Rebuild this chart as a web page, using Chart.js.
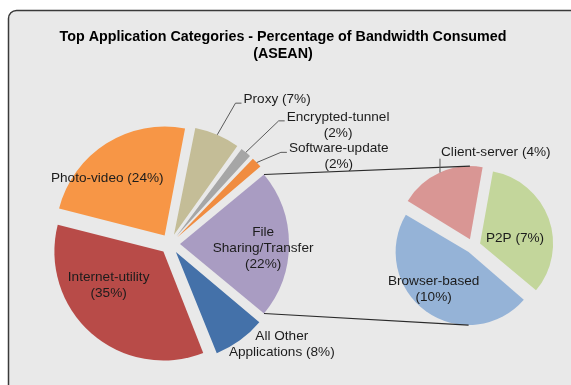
<!DOCTYPE html>
<html>
<head>
<meta charset="utf-8">
<title>Top Application Categories - Percentage of Bandwidth Consumed (ASEAN)</title>
<script src="https://cdn.jsdelivr.net/npm/chart.js@4/dist/chart.umd.min.js"></script>
<style>
  html, body { margin: 0; padding: 0; background: #ffffff; }
  #wrap { position: relative; width: 571px; height: 385px; overflow: hidden; }
  #wrap canvas { position: absolute; left: 0; top: 0; }
</style>
</head>
<body>
<div id="wrap">
  <canvas id="mainPie" width="571" height="385"></canvas>
  <canvas id="subPie" width="571" height="385"></canvas>
</div>
<script>
// ---- data ----
const titleLines = ['Top Application Categories - Percentage of Bandwidth Consumed', '(ASEAN)'];

// main pie, clockwise from the aggregated slice
const mainCategories = ['File Sharing/Transfer', 'All Other Applications', 'Internet-utility',
                        'Photo-video', 'Proxy', 'Encrypted-tunnel', 'Software-update'];
const mainValues = [22, 8, 35, 24, 7, 2, 2];

// breakdown of File Sharing/Transfer
const subCategories = ['Client-server', 'P2P', 'Browser-based'];
const subValues = [4, 7, 10];

// ---- styling ----
const mainColors = ['#A99CC2', '#4471A9', '#B84B48', '#F79646', '#C4BD97', '#A6A6A6', '#F08C40'];
const subColors = ['#D99694', '#C3D69B', '#95B3D7'];
const FONT = '13.6px "Liberation Sans", Arial, sans-serif';
const TITLE_FONT = 'bold 14.3px "Liberation Sans", Arial, sans-serif';
const TEXT_COLOR = '#1c1c1c';
const LINE_H = 16;

// label placement: angle (deg) and distance (in radii) from the pie centre
const mainLabelLayout = [
  { angle: 2.4,   dist: 0.855, breakAfter: 1, pctOwnLine: true },
  { angle: 42,    dist: 1.38,  breakAfter: 2 },
  { angle: 145.9, dist: 0.68,  pctOwnLine: true },
  { angle: 226.5, dist: 0.836 },
  { angle: -63.1, dist: 1.49,  leader: 'side' },
  { angle: -45.6, dist: 1.53,  leader: 'side', pctOwnLine: true },
  { angle: -36.4, dist: 1.355, leader: 'side', pctOwnLine: true }
];
const subLabelLayout = [
  { angle: -108.9, dist: 1.351, leader: 'up' },
  { angle: -10.8,  dist: 0.586 },
  { angle: 132.4,  dist: 0.8, pctOwnLine: true }
];

const MAIN_RADIUS = 109;
const SUB_RADIUS = 73;

// Chart.js moves an arc by offset/4 and widens thin arcs by the same amount;
// keep every slice on the nominal radius.
const radiusFix = {
  id: 'radiusFix',
  afterDatasetsUpdate(chart) {
    const shift = (chart.data.datasets[0].offset || 0) / 4;
    chart.getDatasetMeta(0).data.forEach(arc => {
      const fix = 1 - Math.sin(Math.min(Math.PI, arc.circumference));
      arc.outerRadius = chart.options.radius - shift * fix;
    });
  }
};

function arcShift(chart) {
  return (chart.data.datasets[0].offset || 0) / 4;
}

// point on the outer edge of an exploded arc at a given angle
function edgePoint(chart, arc, ang) {
  const shift = arcShift(chart);
  const mid = (arc.startAngle + arc.endAngle) / 2;
  const R = chart.options.radius;
  return {
    x: arc.x + Math.cos(mid) * shift + Math.cos(ang) * R,
    y: arc.y + Math.sin(mid) * shift + Math.sin(ang) * R
  };
}

function makeLabelPlugin(layout) {
  return {
    id: 'sliceLabels',
    afterDatasetsDraw(chart) {
      const ctx = chart.ctx;
      const ds = chart.data.datasets[0];
      const R = chart.options.radius;
      ctx.save();
      ctx.font = FONT;
      ctx.fillStyle = TEXT_COLOR;
      ctx.textBaseline = 'middle';
      chart.getDatasetMeta(0).data.forEach((arc, i) => {
        const L = layout[i];
        const name = chart.data.labels[i];
        const pct = '(' + ds.data[i] + '%)';
        const words = name.split(' ');
        const lines = L.breakAfter
          ? [words.slice(0, L.breakAfter).join(' '), words.slice(L.breakAfter).join(' ')]
          : [name];
        if (L.pctOwnLine) lines.push(pct); else lines[lines.length - 1] += ' ' + pct;

        const a = L.angle * Math.PI / 180;
        const ax = arc.x + Math.cos(a) * L.dist * R;
        const ay = arc.y + Math.sin(a) * L.dist * R;
        const w = Math.max(...lines.map(s => ctx.measureText(s).width));
        const top = ay - (lines.length - 1) * LINE_H / 2;
        let cx = ax;

        if (L.leader) {
          const mid = (arc.startAngle + arc.endAngle) / 2;
          const p = edgePoint(chart, arc, mid);
          ctx.save();
          ctx.strokeStyle = '#5a5a5a';
          ctx.lineWidth = 1;
          ctx.beginPath();
          ctx.moveTo(p.x, p.y);
          if (L.leader === 'side') {
            const ey = top + 4;
            ctx.lineTo(ax - 8, ey);
            ctx.lineTo(ax - 2, ey);
          } else {
            ctx.lineTo(p.x, ay + 6);
          }
          ctx.stroke();
          ctx.restore();
          cx = ax + w / 2;
        }
        ctx.textAlign = 'center';
        lines.forEach((s, k) => ctx.fillText(s, cx, top + k * LINE_H));
      });
      ctx.restore();
    }
  };
}

// rounded panel and title
const framePlugin = {
  id: 'frame',
  beforeDraw(chart) {
    const ctx = chart.ctx;
    const x = 8.5, y = 10.5, r = 8;
    ctx.save();
    ctx.beginPath();
    ctx.moveTo(x, chart.height + 20);
    ctx.lineTo(x, y + r);
    ctx.arcTo(x, y, x + r, y, r);
    ctx.lineTo(chart.width + 20, y);
    ctx.lineTo(chart.width + 20, chart.height + 20);
    ctx.closePath();
    ctx.fillStyle = '#E9E9E9';
    ctx.fill();
    ctx.beginPath();
    ctx.moveTo(x, chart.height + 20);
    ctx.lineTo(x, y + r);
    ctx.arcTo(x, y, x + r, y, r);
    ctx.lineTo(chart.width + 20, y);
    ctx.strokeStyle = '#3a3a3a';
    ctx.lineWidth = 1.5;
    ctx.stroke();

    ctx.font = TITLE_FONT;
    ctx.fillStyle = '#000000';
    ctx.textAlign = 'center';
    ctx.textBaseline = 'middle';
    titleLines.forEach((t, k) => ctx.fillText(t, 283, 37 + k * 17.5));
    ctx.restore();
  }
};

const commonOptions = {
  responsive: false,
  animation: false,
  events: [],
  devicePixelRatio: 1,
  plugins: { legend: { display: false }, tooltip: { enabled: false }, title: { display: false } }
};

const mainChart = new Chart(document.getElementById('mainPie'), {
  type: 'pie',
  data: {
    labels: mainCategories,
    datasets: [{ data: mainValues, backgroundColor: mainColors, borderWidth: 0, offset: 40 }]
  },
  options: Object.assign({}, commonOptions, {
    // the aggregated slice is centred on the right-hand side
    rotation: 90 - (mainValues[0] / mainValues.reduce((s, v) => s + v, 0)) * 180,
    radius: MAIN_RADIUS,
    layout: { padding: { left: 0, right: 231, top: 103, bottom: 0 } }
  }),
  plugins: [framePlugin, radiusFix, makeLabelPlugin(mainLabelLayout)]
});

// lines joining the aggregated slice to the breakdown pie
const connectorPlugin = {
  id: 'connectors',
  afterDatasetsDraw(chart) {
    const ctx = chart.ctx;
    const src = mainChart.getDatasetMeta(0).data[0];
    const p1 = edgePoint(mainChart, src, src.startAngle);
    const p2 = edgePoint(mainChart, src, src.endAngle);
    const arcs = chart.getDatasetMeta(0).data;
    const find = ang => arcs.find(a => {
      const s = a.startAngle, e = a.endAngle;
      let t = ang;
      while (t < s) t += 2 * Math.PI;
      while (t > s + 2 * Math.PI) t -= 2 * Math.PI;
      return t <= e;
    });
    const topArc = find(-Math.PI / 2);
    const botArc = find(Math.PI / 2);
    const q1 = edgePoint(chart, topArc, -Math.PI / 2);
    const q2 = edgePoint(chart, botArc, Math.PI / 2);
    ctx.save();
    ctx.strokeStyle = '#2a2a2a';
    ctx.lineWidth = 1.2;
    ctx.beginPath();
    ctx.moveTo(p1.x, p1.y); ctx.lineTo(q1.x, q1.y);
    ctx.moveTo(p2.x, p2.y); ctx.lineTo(q2.x, q2.y);
    ctx.stroke();
    ctx.restore();
  }
};

const subChart = new Chart(document.getElementById('subPie'), {
  type: 'pie',
  data: {
    labels: subCategories,
    datasets: [{ data: subValues, backgroundColor: subColors, borderWidth: 0, offset: 30 }]
  },
  options: Object.assign({}, commonOptions, {
    rotation: -58.5,
    radius: SUB_RADIUS,
    layout: { padding: { left: 375, right: 0, top: 107, bottom: 0 } }
  }),
  plugins: [radiusFix, connectorPlugin, makeLabelPlugin(subLabelLayout)]
});
</script>
</body>
</html>
